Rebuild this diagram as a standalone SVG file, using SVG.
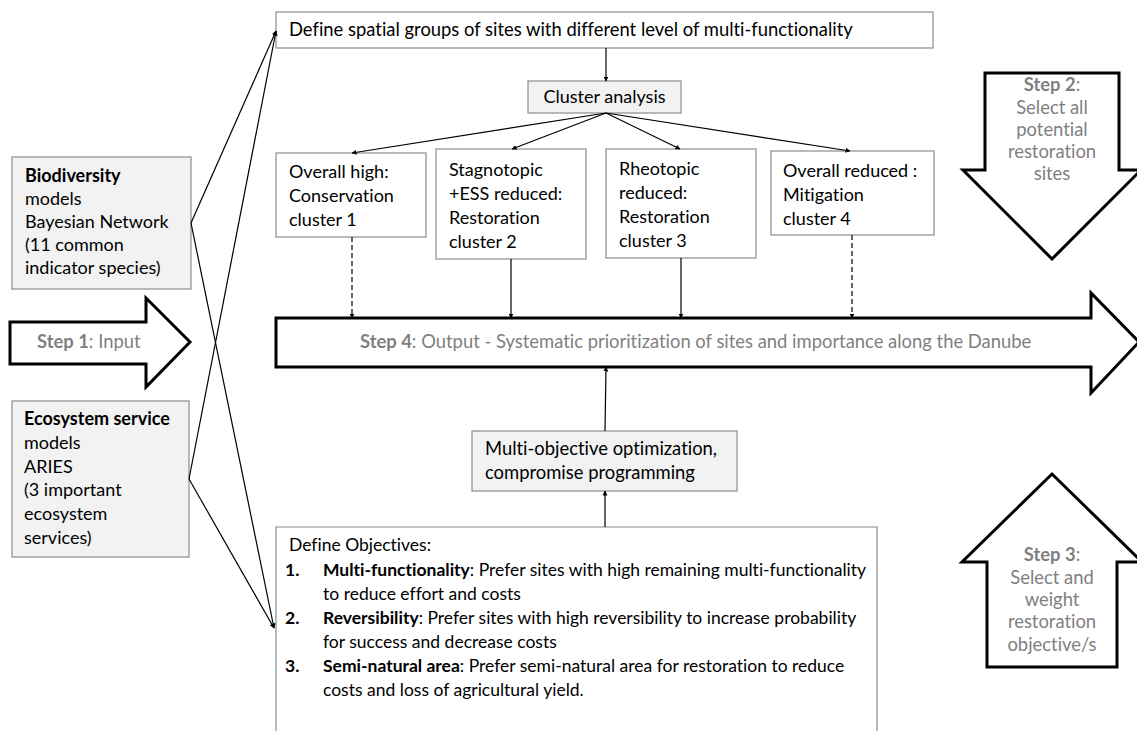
<svg xmlns="http://www.w3.org/2000/svg" width="1137" height="731" viewBox="0 0 1137 731">
<style>
  text { font-family: Lato, "Liberation Sans", sans-serif; font-size: 18px; fill: #000; font-variant-ligatures: none; }
  .g { fill: #7f7f7f; font-size: 18.4px; }
  .b { font-weight: bold; }
  .obj { font-size: 17.5px; }
  .box { fill: #fff; stroke: #8c8c8c; stroke-width: 1.2; }
  .gbox { fill: #f2f2f2; stroke: #8c8c8c; stroke-width: 1.2; }
  .step { fill: #fff; stroke: #000; stroke-width: 3; stroke-linejoin: miter; }
  .con { fill: none; stroke: #000; stroke-width: 1.2; }
  .dash { stroke-dasharray: 5 3; }
</style>
<defs>
  <marker id="ah" viewBox="0 0 10 10" refX="9" refY="5" markerWidth="5" markerHeight="5" orient="auto" markerUnits="userSpaceOnUse">
    <path d="M0,0 L10,5 L0,10 z" fill="#000"/>
  </marker>
</defs>
<rect width="1137" height="731" fill="#fff"/>

<g id="step1">
  <path class="step" d="M10,322 L146,322 L146,298 L190,342 L146,387 L146,364 L10,364 Z"/>
  <text x="37" y="348" class="g"><tspan class="b">Step 1</tspan>: Input</text>
</g>
<g id="step4">
  <path class="step" d="M276,318 L1091,318 L1091,293 L1139,342 L1091,393 L1091,367 L276,367 Z"/>
  <text x="360" y="348" class="g"><tspan class="b">Step 4</tspan>: Output - Systematic prioritization of sites and importance along the Danube</text>
</g>
<g id="step2">
  <path class="step" d="M985,73 L1119,73 L1119,170 L1141,170 L1052,259 L963,170 L985,170 Z"/>
  <text text-anchor="middle" class="g"><tspan x="1052" y="91"><tspan class="b">Step 2</tspan>:</tspan><tspan x="1052" y="114">Select all</tspan><tspan x="1052" y="136">potential</tspan><tspan x="1052" y="158">restoration</tspan><tspan x="1052" y="180">sites</tspan></text>
</g>
<g id="step3">
  <path class="step" d="M987,667 L1117,667 L1117,562 L1142,562 L1052,474 L962,562 L987,562 Z"/>
  <text text-anchor="middle" class="g"><tspan x="1052" y="561"><tspan class="b">Step 3</tspan>:</tspan><tspan x="1052" y="584">Select and</tspan><tspan x="1052" y="606">weight</tspan><tspan x="1052" y="628">restoration</tspan><tspan x="1052" y="651">objective/s</tspan></text>
</g>

<g id="biodiversity">
  <rect class="gbox" x="12" y="157" width="179" height="132"/>
  <text><tspan x="25" y="182" class="b">Biodiversity</tspan><tspan x="25" y="205">models</tspan><tspan x="25" y="228">Bayesian Network</tspan><tspan x="25" y="251">(11 common</tspan><tspan x="25" y="274">indicator species)</tspan></text>
</g>
<g id="ecosystem">
  <rect class="gbox" x="12" y="401" width="177" height="156"/>
  <text><tspan x="24" y="425" class="b">Ecosystem service</tspan><tspan x="24" y="449">models</tspan><tspan x="24" y="473">ARIES</tspan><tspan x="24" y="496">(3 important</tspan><tspan x="24" y="520">ecosystem</tspan><tspan x="24" y="544">services)</tspan></text>
</g>

<g id="define-groups">
  <rect class="box" x="276" y="12" width="657" height="36"/>
  <text x="289" y="36" style="font-size:18.4px">Define spatial groups of sites with different level of multi-functionality</text>
</g>
<g id="cluster-analysis">
  <rect class="gbox" x="528" y="81" width="153" height="32"/>
  <text x="604.5" y="103" text-anchor="middle">Cluster analysis</text>
</g>
<g id="cluster1">
  <rect class="box" x="276" y="153" width="150" height="84"/>
  <text><tspan x="289" y="178">Overall high:</tspan><tspan x="289" y="202">Conservation</tspan><tspan x="289" y="226">cluster 1</tspan></text>
</g>
<g id="cluster2">
  <rect class="box" x="436" y="149" width="150" height="110"/>
  <text><tspan x="449" y="176">Stagnotopic</tspan><tspan x="449" y="200">+ESS reduced:</tspan><tspan x="449" y="224">Restoration</tspan><tspan x="449" y="248">cluster 2</tspan></text>
</g>
<g id="cluster3">
  <rect class="box" x="606" y="149" width="150" height="109"/>
  <text><tspan x="619" y="175">Rheotopic</tspan><tspan x="619" y="199">reduced:</tspan><tspan x="619" y="223">Restoration</tspan><tspan x="619" y="247">cluster 3</tspan></text>
</g>
<g id="cluster4">
  <rect class="box" x="771" y="151" width="163" height="84"/>
  <text><tspan x="783" y="177">Overall reduced :</tspan><tspan x="783" y="201">Mitigation</tspan><tspan x="783" y="225">cluster 4</tspan></text>
</g>
<g id="multi-objective">
  <rect class="gbox" x="472" y="431" width="265" height="60"/>
  <text style="font-size:18.4px"><tspan x="485" y="455">Multi-objective optimization,</tspan><tspan x="485" y="479">compromise programming</tspan></text>
</g>
<g id="objectives">
  <path class="box" d="M276,740 L276,527 L877,527 L877,740"/>
  <text class="obj" x="289" y="551">Define Objectives:</text>
  <text class="obj b" x="285" y="576">1.</text>
  <text class="obj" x="323" y="576"><tspan class="b">Multi-functionality</tspan>: Prefer sites with high remaining multi-functionality</text>
  <text class="obj" x="323" y="600">to reduce effort and costs</text>
  <text class="obj b" x="285" y="624">2.</text>
  <text class="obj" x="323" y="624"><tspan class="b">Reversibility</tspan>: Prefer sites with high reversibility to increase probability</text>
  <text class="obj" x="323" y="648">for success and decrease costs</text>
  <text class="obj b" x="285" y="672">3.</text>
  <text class="obj" x="323" y="672"><tspan class="b">Semi-natural area</tspan>: Prefer semi-natural area for restoration to reduce</text>
  <text class="obj" x="323" y="696">costs and loss of agricultural yield.</text>
</g>

<g id="connectors">
  <line class="con" x1="191" y1="223" x2="276" y2="31" marker-end="url(#ah)"/>
  <line class="con" x1="191" y1="223" x2="274" y2="628" marker-end="url(#ah)"/>
  <line class="con" x1="189" y1="479" x2="276" y2="31" marker-end="url(#ah)"/>
  <line class="con" x1="189" y1="479" x2="274" y2="628" marker-end="url(#ah)"/>
  <line class="con" x1="606" y1="48" x2="606" y2="81" marker-end="url(#ah)"/>
  <line class="con" x1="606" y1="113" x2="352" y2="153" marker-end="url(#ah)"/>
  <line class="con" x1="606" y1="113" x2="512" y2="149" marker-end="url(#ah)"/>
  <line class="con" x1="606" y1="113" x2="680" y2="149" marker-end="url(#ah)"/>
  <line class="con" x1="606" y1="113" x2="850" y2="151" marker-end="url(#ah)"/>
  <line class="con dash" x1="352" y1="237" x2="352" y2="318" marker-end="url(#ah)"/>
  <line class="con" x1="511" y1="259" x2="511" y2="318" marker-end="url(#ah)"/>
  <line class="con" x1="681" y1="258" x2="681" y2="318" marker-end="url(#ah)"/>
  <line class="con dash" x1="852" y1="235" x2="852" y2="318" marker-end="url(#ah)"/>
  <line class="con" x1="605" y1="431" x2="606" y2="367" marker-end="url(#ah)"/>
  <line class="con" x1="605" y1="527" x2="605" y2="491" marker-end="url(#ah)"/>
</g>
</svg>
